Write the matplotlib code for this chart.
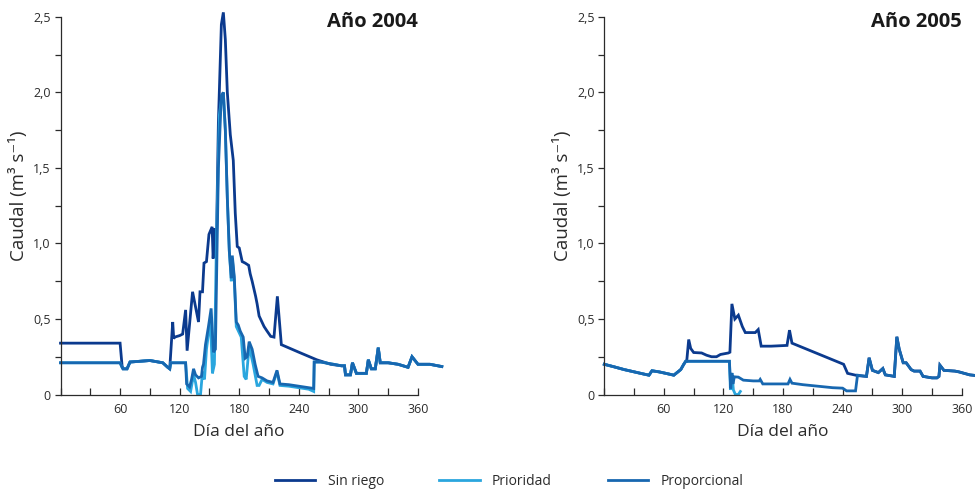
import numpy as np
import matplotlib
matplotlib.use("Agg")
import matplotlib.pyplot as plt
from matplotlib.ticker import MultipleLocator

plt.rcParams["font.family"] = ["Open Sans", "DejaVu Sans"]

# ---- data -----------------------------------------------------------
# 2004
SIN_2004_DAY = [0, 60, 62, 63, 67, 70, 90, 103, 108, 110, 113, 114, 115, 120, 123, 126,
                127.5, 133, 136, 139, 140.5, 143, 144.5, 147, 149.5, 152.7, 153.7, 155.5,
                157, 159, 162, 164, 166, 168, 171, 174, 176, 178, 180, 183, 186, 189.5,
                191, 193, 196.5, 198, 200, 205, 208, 211.7, 215, 218.4, 222.4, 240, 258,
                272, 283]
SIN_2004_Q = [0.34, 0.34, 0.19, 0.17, 0.17, 0.215, 0.225, 0.21, 0.18, 0.17, 0.48, 0.37,
              0.38, 0.39, 0.40, 0.56, 0.29, 0.68, 0.58, 0.48, 0.68, 0.68, 0.87, 0.88,
              1.06, 1.11, 0.90, 1.10, 1.00, 1.80, 2.45, 2.53, 2.35, 2.00, 1.72, 1.55,
              1.20, 0.98, 0.97, 0.88, 0.87, 0.855, 0.80, 0.75, 0.65, 0.60, 0.52, 0.45,
              0.42, 0.385, 0.38, 0.65, 0.33, 0.28, 0.23, 0.20, 0.19]

PROP_2004_DAY = [0, 60, 62, 63, 67, 70, 90, 103, 108, 110, 111, 126, 127, 130, 132, 134,
                 136, 139, 142, 143, 144, 146, 149, 151.7, 154, 156, 157, 159, 162, 164,
                 166, 168, 170, 172, 173, 175, 177, 179, 181, 184, 186, 188, 190, 193,
                 196, 199, 203, 208, 214, 218, 221, 230, 240, 250, 255, 255.5, 262, 275,
                 283]
PROP_2004_Q = [0.21, 0.21, 0.18, 0.17, 0.17, 0.215, 0.225, 0.21, 0.18, 0.17, 0.21, 0.21,
               0.07, 0.05, 0.10, 0.17, 0.13, 0.11, 0.12, 0.18, 0.20, 0.33, 0.45, 0.57,
               0.28, 0.30, 0.70, 1.50, 1.98, 2.00, 1.75, 1.30, 0.95, 0.77, 0.92, 0.78,
               0.48, 0.46, 0.42, 0.38, 0.24, 0.25, 0.35, 0.30, 0.20, 0.12, 0.11, 0.09,
               0.08, 0.16, 0.07, 0.065, 0.055, 0.045, 0.04, 0.215, 0.215, 0.20, 0.19]

PRIO_2004_DAY = [0, 60, 62, 63, 67, 70, 90, 103, 108, 110, 111, 126, 128, 131, 134, 136,
                 138, 141, 143, 145, 147, 151, 153, 155, 157, 160, 162, 164, 166, 168,
                 170, 172, 173, 175, 177, 182, 185, 187, 190, 194, 198, 200, 203, 208,
                 214, 218, 221, 230, 240, 250, 255, 255.5, 262, 275, 283]
PRIO_2004_Q = [0.21, 0.21, 0.18, 0.17, 0.17, 0.215, 0.225, 0.21, 0.18, 0.17, 0.21, 0.21,
               0.04, 0.02, 0.13, 0.08, 0.0, 0.0, 0.15, 0.10, 0.30, 0.50, 0.14, 0.20,
               1.00, 1.85, 1.95, 2.00, 1.75, 1.30, 0.95, 0.75, 0.90, 0.76, 0.45, 0.38,
               0.12, 0.10, 0.32, 0.20, 0.06, 0.06, 0.10, 0.08, 0.07, 0.15, 0.06, 0.055,
               0.045, 0.035, 0.02, 0.215, 0.215, 0.20, 0.19]

TAIL_2004_DAY = [286, 287, 292, 294, 298, 308, 310, 313, 317, 320, 322, 330, 340, 350,
                 354, 360, 368, 372, 384]
TAIL_2004_Q = [0.19, 0.13, 0.13, 0.21, 0.14, 0.14, 0.23, 0.17, 0.17, 0.31, 0.21, 0.21,
               0.20, 0.18, 0.25, 0.20, 0.20, 0.20, 0.185]

# 2005
HEAD_2005_DAY = [0, 10, 20, 30, 40, 45, 48, 55, 62, 70, 77, 80, 82]
HEAD_2005_Q = [0.20, 0.183, 0.165, 0.15, 0.135, 0.128, 0.157, 0.15, 0.14, 0.128, 0.165,
               0.20, 0.22]

SIN_2005_DAY = [83, 85, 87, 90, 98, 103, 108, 113, 117, 125, 126.5, 128.5, 131.5, 135,
                139, 142, 152, 155, 158, 168, 184, 186.5, 189, 241, 245, 255]
SIN_2005_Q = [0.22, 0.364, 0.305, 0.278, 0.275, 0.26, 0.25, 0.25, 0.265, 0.275, 0.28,
              0.60, 0.50, 0.525, 0.45, 0.41, 0.41, 0.43, 0.32, 0.32, 0.325, 0.426,
              0.34, 0.20, 0.14, 0.125]

PROP_2005_DAY = [126, 127.3, 128.5, 129.5, 131, 135, 140, 150, 156, 157, 159.6, 185, 187,
                 189, 200, 215, 230, 240, 244, 253, 255]
PROP_2005_Q = [0.22, 0.04, 0.143, 0.07, 0.117, 0.115, 0.095, 0.09, 0.09, 0.10, 0.07,
               0.07, 0.10, 0.075, 0.065, 0.055, 0.045, 0.042, 0.024, 0.024, 0.128]

PRIO_2005_DAY = [126, 127, 128.5, 130, 132, 135, 137]
PRIO_2005_Q = [0.22, 0.03, 0.14, 0.03, 0.0, 0.0, 0.02]

TAIL_2005_DAY = [264, 266.7, 270, 276, 280.5, 283, 292, 294.6, 297, 301, 304, 309, 312,
                 318, 321, 330, 335, 337, 338, 342, 353, 357, 368, 375]
TAIL_2005_Q = [0.12, 0.243, 0.16, 0.145, 0.172, 0.13, 0.12, 0.382, 0.30, 0.21, 0.21,
               0.165, 0.155, 0.155, 0.12, 0.11, 0.11, 0.12, 0.194, 0.16, 0.155, 0.15,
               0.13, 0.125]

SERIES = ["Sin riego", "Prioridad", "Proporcional"]
COLORS = ["#0b3a8e", "#2aa6de", "#1767b0"]
YTICKS = [0, 0.5, 1.0, 1.5, 2.0, 2.5]
YTICK_LABELS = ["0", "0,5", "1,0", "1,5", "2,0", "2,5"]
XTICKS = [60, 120, 180, 240, 300, 360]

W, H = 975, 491
INK = "#2b2b2b"


def series_2004():
    tail_d, tail_q = TAIL_2004_DAY, TAIL_2004_Q
    return {
        "Sin riego": (SIN_2004_DAY + tail_d, SIN_2004_Q + tail_q),
        "Prioridad": (PRIO_2004_DAY + tail_d, PRIO_2004_Q + tail_q),
        "Proporcional": (PROP_2004_DAY + tail_d, PROP_2004_Q + tail_q),
    }


def series_2005():
    hd, hq = HEAD_2005_DAY, HEAD_2005_Q
    td, tq = TAIL_2005_DAY, TAIL_2005_Q
    return {
        "Sin riego": (hd + SIN_2005_DAY + td, hq + SIN_2005_Q + tq),
        "Prioridad": (hd + PRIO_2005_DAY, hq + PRIO_2005_Q),
        "Proporcional": (hd + PROP_2005_DAY + td, hq + PROP_2005_Q + tq),
    }


def style_axes(ax, xmax, title):
    ax.set_xlim(0, xmax)
    ax.set_ylim(0, 2.56)
    for s in ("top", "right"):
        ax.spines[s].set_visible(False)
    for s in ("left", "bottom"):
        ax.spines[s].set_color(INK)
        ax.spines[s].set_linewidth(0.9)
    ax.spines["bottom"].set_bounds(0, 360)
    ax.spines["left"].set_bounds(0, 2.5)
    ax.set_yticks(YTICKS)
    ax.set_yticklabels(YTICK_LABELS)
    ax.yaxis.set_minor_locator(MultipleLocator(0.25))
    ax.set_xticks(XTICKS)
    ax.set_xticklabels([str(v) for v in XTICKS])
    ax.xaxis.set_minor_locator(MultipleLocator(30))
    ax.tick_params(axis="y", which="both", direction="out", length=4, width=0.9,
                   color=INK, labelcolor=INK, labelsize=9, pad=3)
    ax.tick_params(axis="x", which="both", direction="in", length=5, width=0.9,
                   color=INK, labelcolor=INK, labelsize=9, pad=6)
    # unicode superscripts; the superscript minus falls back to DejaVu Sans
    ax.set_ylabel("Caudal (m³ s⁻¹)", fontsize=13.5, color=INK)
    ax.set_xlabel("Día del año", fontsize=12.5, color=INK)
    ax.text(360, 2.465, title, ha="right", va="center", fontsize=14.5,
            fontweight="bold", color="#1a1a1a")


def main():
    fig = plt.figure(figsize=(W / 100, H / 100), dpi=100)
    px = 0.993   # pixels per day
    hy = 377.6 * 2.56 / 2.5
    bottom = 1 - 394.5 / H
    ax1 = fig.add_axes([60.5 / W, bottom, 384 * px / W, hy / H])
    ax2 = fig.add_axes([604.3 / W, bottom, 374 * px / W, hy / H])

    for ax, data, xmax, title in ((ax1, series_2004(), 384, "Año 2004"),
                                  (ax2, series_2005(), 374, "Año 2005")):
        for name, color in zip(SERIES, COLORS):
            d, q = data[name]
            ax.plot(d, q, color=color, lw=2.0, label=name, clip_on=False,
                    solid_joinstyle="miter")
        style_axes(ax, xmax, title)
        wpx = xmax * px
        ax.yaxis.set_label_coords(-42 / wpx, 0.513)
        ax.yaxis.label.set_va("center")
        ax.xaxis.set_label_coords(180 / xmax, -38 / hy)
        ax.xaxis.label.set_va("center")

    handles, labels = ax1.get_legend_handles_labels()
    fig.legend(handles, labels, loc="center", bbox_to_anchor=(0.522, 0.02),
               ncol=3, frameon=False, fontsize=10, handlelength=2.9,
               handletextpad=0.9, columnspacing=4.0, labelcolor=INK)

    fig.savefig("out.png", dpi=100)
    plt.close(fig)


if __name__ == "__main__":
    main()
